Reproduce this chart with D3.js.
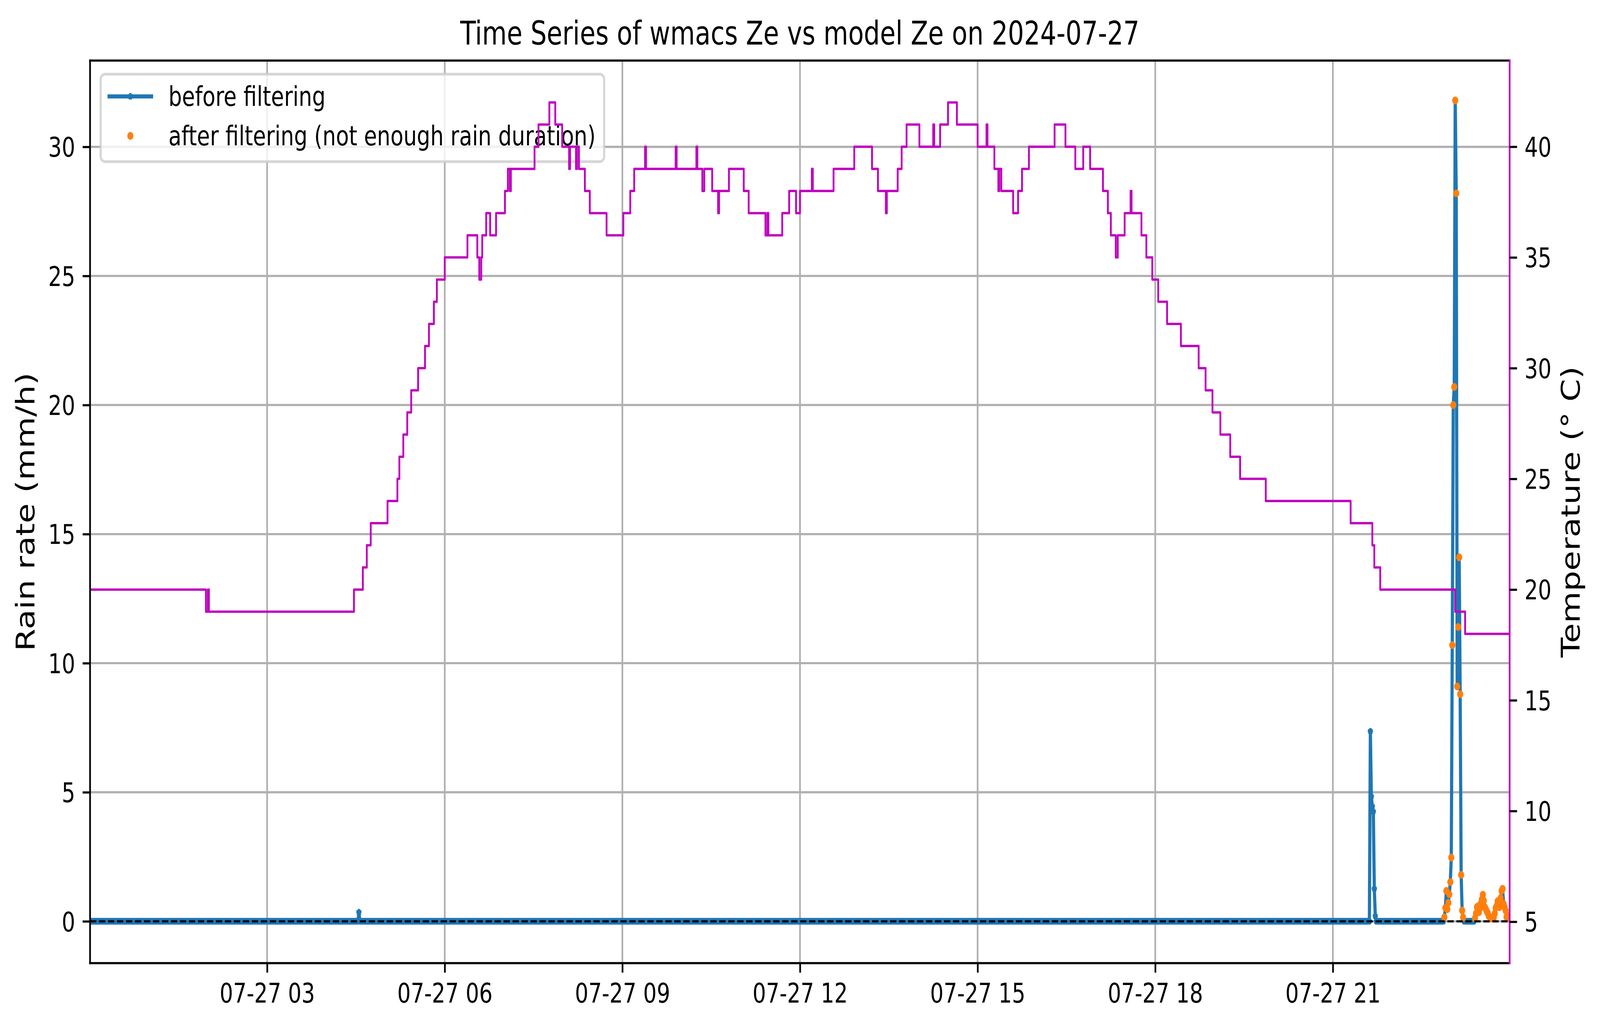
<!DOCTYPE html>
<html>
<head>
<meta charset="utf-8">
<script src="https://cdn.jsdelivr.net/npm/d3@7"></script>
<style>
  html, body { margin: 0; padding: 0; background: #ffffff; overflow: hidden; }
  #chart { display: block; width: 100vw; height: 100vh; }
  svg text { font-family: "DejaVu Sans", sans-serif; }
</style>
</head>
<body>
<svg id="chart"></svg>
<script>
// ---------------- DATA ----------------
const chartTitle = "Time Series of wmacs Ze vs model Ze on 2024-07-27";
const leftLabel = "Rain rate (mm/h)";
const rightLabel = "Temperature (° C)";
const legendLabels = ["before filtering", "after filtering (not enough rain duration)"];

// Rain rate samples (mm/h) that differ from zero; every other one-minute sample of the day reads 0
const rainEventTimes = [
  "04:33",
  "21:38", "21:39", "21:40", "21:41", "21:42", "21:43",
  "22:53", "22:54", "22:55", "22:56", "22:57", "22:58", "22:59", "23:00",
  "23:01", "23:02", "23:03", "23:04", "23:05", "23:06", "23:07", "23:08",
  "23:09", "23:10", "23:11", "23:12",
  "23:24", "23:25", "23:26", "23:27", "23:28", "23:29", "23:30", "23:31",
  "23:32", "23:33", "23:34", "23:35", "23:36", "23:37", "23:38", "23:39",
  "23:40", "23:41", "23:42", "23:43", "23:44", "23:45", "23:46", "23:47",
  "23:48", "23:49", "23:50", "23:51", "23:52", "23:53", "23:54", "23:55",
  "23:56", "23:57", "23:58", "23:59"
];
const rainEventValues = [
  0.35,
  7.36, 4.83, 4.45, 4.25, 1.26, 0.2,
  0.16, 0.52, 1.18, 0.47, 0.72, 1.05, 1.52, 2.47,
  10.7, 20.0, 20.7, 31.8, 28.2, 9.1, 11.4, 14.1,
  8.8, 1.8, 0.42, 0.15,
  0.12, 0.3, 0.55, 0.58, 0.35, 0.5, 0.7, 0.85,
  1.03, 0.8, 0.55, 0.47, 0.38, 0.32, 0.2, 0.17,
  0.12, 0.14, 0.12, 0.14, 0.3, 0.52, 0.6, 0.78,
  0.7, 0.55, 0.9, 1.18, 1.26, 0.68, 0.55, 0.42,
  0.17, 0.14, 0.2, 0.15
];
// samples that survive the filter start with the last rain event
const filterKeepFrom = "22:50";

// Temperature (°C): minute of day at which each reading level starts, and the level
const tempStartMinute = [
  0, 118, 120, 121, 268, 277, 281, 285, 302, 312, 314, 318, 322, 326, 333, 340,
  344, 349, 352, 360, 383, 393, 395, 397, 398, 402, 406, 412, 421, 424, 426, 427,
  451, 455, 466, 472, 479, 486, 487, 493, 494, 496, 502, 507, 524, 541, 548, 552,
  563, 564, 594, 595, 615, 616, 621, 623, 631, 637, 638, 648, 663, 668, 685, 687,
  688, 702, 709, 716, 720, 732, 733, 754, 775, 793, 799, 807, 808, 819, 823, 828,
  841, 855, 856, 862, 870, 879, 900, 909, 910, 917, 921, 922, 924, 936, 941, 945,
  952, 978, 989, 999, 1007, 1014, 1027, 1032, 1035, 1040, 1042, 1049, 1055, 1056, 1066, 1071,
  1077, 1083, 1092, 1106, 1124, 1131, 1138, 1146, 1156, 1166, 1192, 1278, 1300, 1302, 1308, 1384,
  1394, 1439
];
const tempValue = [
  20, 19, 20, 19, 20, 21, 22, 23, 24, 25, 26, 27, 28, 29, 30, 31,
  32, 33, 34, 35, 36, 35, 34, 35, 36, 37, 36, 37, 38, 39, 38, 39,
  40, 41, 42, 41, 40, 39, 40, 39, 40, 39, 38, 37, 36, 37, 38, 39,
  40, 39, 40, 39, 40, 39, 38, 39, 38, 37, 38, 39, 38, 37, 36, 37,
  36, 37, 38, 37, 38, 39, 38, 39, 40, 39, 38, 37, 38, 39, 40, 41,
  40, 41, 40, 41, 42, 41, 40, 41, 40, 39, 38, 39, 38, 37, 38, 39,
  40, 41, 40, 39, 40, 39, 38, 37, 36, 35, 36, 37, 38, 37, 36, 35,
  34, 33, 32, 31, 30, 29, 28, 27, 26, 25, 24, 23, 22, 21, 20, 19,
  18, 18
];

const leftTicks = [0, 5, 10, 15, 20, 25, 30];
const rightTicks = [5, 10, 15, 20, 25, 30, 35, 40];
const xTickHours = [3, 6, 9, 12, 15, 18, 21];

// ---------------- LAYOUT / STYLE ----------------
const W = 5241, H = 2631;
const PT = 500 / 72;                    // pixels per point
const P = { left: 295, right: 4945, top: 155, bottom: 2465 };
const FS_TICK = 10 * PT, FS_LABEL = 12 * PT;
const C_BLUE = "#1f77b4", C_ORANGE = "#ff7f0e", C_MAG = "#bf00bf", C_GRID = "#b0b0b0";

const day0 = Date.UTC(2024, 6, 27);
const hm = s => { const [h, m] = s.split(":").map(Number); return new Date(day0 + (h * 60 + m) * 60000); };
const minuteDate = m => new Date(day0 + m * 60000);

const x = d3.scaleUtc()
  .domain([new Date(day0 + 34000), new Date(day0 + (23 * 60 + 59) * 60000 + 8000)])
  .range([P.left, P.right]);
const yL = d3.scaleLinear().domain([-1.6195, 33.343]).range([P.bottom, P.top]);
const yR = d3.scaleLinear().domain([3.1295, 43.891]).range([P.bottom, P.top]);

// full one-minute rain record
const rainMap = new Map(rainEventTimes.map((t, i) => [+hm(t), rainEventValues[i]]));
const rainSeries = d3.utcMinute.range(minuteDate(0), minuteDate(1440))
  .map(t => ({ t, v: rainMap.has(+t) ? rainMap.get(+t) : 0 }));
const keepFrom = +hm(filterKeepFrom);
const filtered = rainEventTimes.map((t, i) => ({ t: hm(t), v: rainEventValues[i] }))
  .filter(d => +d.t >= keepFrom && d.v > 0);
const tempSeries = tempStartMinute.map((m, i) => ({ t: minuteDate(m), v: tempValue[i] }));

// ---------------- DRAW ----------------
const svg = d3.select("#chart")
  .attr("viewBox", `0 0 ${W} ${H}`).attr("preserveAspectRatio", "none");
svg.append("rect").attr("width", W).attr("height", H).attr("fill", "#ffffff");

svg.append("clipPath").attr("id", "plotclip").append("rect")
  .attr("x", P.left).attr("y", P.top)
  .attr("width", P.right - P.left).attr("height", P.bottom - P.top);

// grid
const xTicks = xTickHours.map(h => minuteDate(h * 60));
const grid = svg.append("g").attr("stroke", C_GRID).attr("stroke-width", 0.8 * PT);
grid.selectAll("line.v").data(xTicks).join("line")
  .attr("x1", d => x(d)).attr("x2", d => x(d)).attr("y1", P.top).attr("y2", P.bottom);
grid.selectAll("line.h").data(leftTicks).join("line")
  .attr("x1", P.left).attr("x2", P.right).attr("y1", d => yL(d)).attr("y2", d => yL(d));

const main = svg.append("g").attr("clip-path", "url(#plotclip)");

// before filtering: line + star markers
main.append("path").datum(rainSeries)
  .attr("fill", "none").attr("stroke", C_BLUE).attr("stroke-width", 1.5 * PT)
  .attr("stroke-linejoin", "round").attr("stroke-linecap", "square")
  .attr("d", d3.line().x(d => x(d.t)).y(d => yL(d.v)));
const star = d3.symbol().type(d3.symbolStar).size(63)();
main.append("g").selectAll("path").data(rainSeries).join("path")
  .attr("d", star)
  .attr("transform", d => `translate(${x(d.t)},${yL(d.v)})`)
  .attr("fill", C_BLUE).attr("stroke", C_BLUE).attr("stroke-width", PT)
  .attr("stroke-linejoin", "bevel");

// after filtering: dots
main.append("g").selectAll("circle").data(filtered).join("circle")
  .attr("cx", d => x(d.t)).attr("cy", d => yL(d.v)).attr("r", 10)
  .attr("fill", C_ORANGE);

// zero reference line
main.append("line")
  .attr("x1", P.left).attr("x2", P.right).attr("y1", yL(0)).attr("y2", yL(0))
  .attr("stroke", "#000").attr("stroke-width", 0.8 * PT)
  .attr("stroke-dasharray", `${3.7 * 0.8 * PT},${1.6 * 0.8 * PT}`);

// legend
const lg = svg.append("g");
const lgX = P.left + 0.5 * FS_TICK, lgY = P.top + 0.5 * FS_TICK;
const lgRect = lg.append("rect").attr("x", lgX).attr("y", lgY).attr("rx", 14).attr("ry", 14)
  .attr("fill", "#ffffff").attr("fill-opacity", 0.8)
  .attr("stroke", "#cccccc").attr("stroke-opacity", 0.8).attr("stroke-width", PT);
const rowY = [lgY + 57, lgY + 158];
const handleX0 = lgX + 0.4 * FS_TICK, handleX1 = handleX0 + 2 * FS_TICK;
const textX = handleX1 + 0.8 * FS_TICK;
lg.append("line").attr("x1", handleX0).attr("x2", handleX1).attr("y1", rowY[0]).attr("y2", rowY[0])
  .attr("stroke", C_BLUE).attr("stroke-width", 1.5 * PT).attr("stroke-linecap", "square");
lg.append("path").attr("d", star)
  .attr("transform", `translate(${(handleX0 + handleX1) / 2},${rowY[0]})`)
  .attr("fill", C_BLUE).attr("stroke", C_BLUE).attr("stroke-width", PT).attr("stroke-linejoin", "bevel");
lg.append("circle").attr("cx", (handleX0 + handleX1) / 2).attr("cy", rowY[1]).attr("r", 10)
  .attr("fill", C_ORANGE);
let maxW = 0;
legendLabels.forEach((s, i) => {
  const t = lg.append("text").attr("x", textX).attr("y", rowY[i]).attr("dy", "0.35em")
    .attr("font-size", FS_TICK).attr("fill", "#000").text(s);
  maxW = Math.max(maxW, t.node().getComputedTextLength());
});
lgRect.attr("width", textX + maxW + 0.4 * FS_TICK - lgX).attr("height", 224);

// temperature (twin axis) drawn on top
svg.append("g").attr("clip-path", "url(#plotclip)")
  .append("path").datum(tempSeries)
  .attr("fill", "none").attr("stroke", C_MAG).attr("stroke-width", 6)
  .attr("stroke-linejoin", "round")
  .attr("d", d3.line().x(d => x(d.t)).y(d => yR(d.v)).curve(d3.curveStepAfter));

// spines
const sp = svg.append("g").attr("stroke-width", 0.8 * PT).attr("stroke-linecap", "square");
sp.append("line").attr("x1", P.left).attr("x2", P.left).attr("y1", P.top).attr("y2", P.bottom).attr("stroke", "#000");
sp.append("line").attr("x1", P.left).attr("x2", P.right).attr("y1", P.top).attr("y2", P.top).attr("stroke", "#000");
sp.append("line").attr("x1", P.left).attr("x2", P.right).attr("y1", P.bottom).attr("y2", P.bottom).attr("stroke", "#000");
sp.append("line").attr("x1", P.right).attr("x2", P.right).attr("y1", P.top).attr("y2", P.bottom).attr("stroke", C_MAG);

// axes
const TL = 3.5 * PT, TP = 3.5 * PT;
function styleAxis(g) {
  g.select(".domain").remove();
  g.selectAll(".tick line").attr("stroke", "#000").attr("stroke-width", 0.8 * PT);
  g.selectAll(".tick text").attr("font-size", FS_TICK).attr("fill", "#000")
    .attr("font-family", "DejaVu Sans");
}
svg.append("g").attr("transform", `translate(0,${P.bottom})`)
  .call(d3.axisBottom(x).tickValues(xTicks).tickFormat(d3.utcFormat("%m-%d %H"))
    .tickSize(TL).tickPadding(TP))
  .call(styleAxis)
  .call(g => g.selectAll(".tick text").attr("dy", "0.76em"));
svg.append("g").attr("transform", `translate(${P.left},0)`)
  .call(d3.axisLeft(yL).tickValues(leftTicks).tickFormat(d3.format("d")).tickSize(TL).tickPadding(TP))
  .call(styleAxis)
  .call(g => g.selectAll(".tick text").attr("dy", "0.36em"));
svg.append("g").attr("transform", `translate(${P.right},0)`)
  .call(d3.axisRight(yR).tickValues(rightTicks).tickFormat(d3.format("d")).tickSize(TL).tickPadding(TP))
  .call(styleAxis)
  .call(g => g.selectAll(".tick text").attr("dy", "0.36em"));

// labels and title
svg.append("text").attr("transform", `translate(113,${(P.top + P.bottom) / 2}) rotate(-90)`)
  .attr("text-anchor", "middle").attr("font-size", FS_LABEL).attr("fill", "#000").text(leftLabel);
svg.append("text").attr("transform", `translate(5175,${(P.top + P.bottom) / 2}) rotate(-90)`)
  .attr("text-anchor", "middle").attr("font-size", FS_LABEL).attr("fill", "#000").text(rightLabel);
svg.append("text").attr("x", (P.left + P.right) / 2).attr("y", 114)
  .attr("text-anchor", "middle").attr("font-size", FS_LABEL).attr("fill", "#000").text(chartTitle);
</script>
</body>
</html>
